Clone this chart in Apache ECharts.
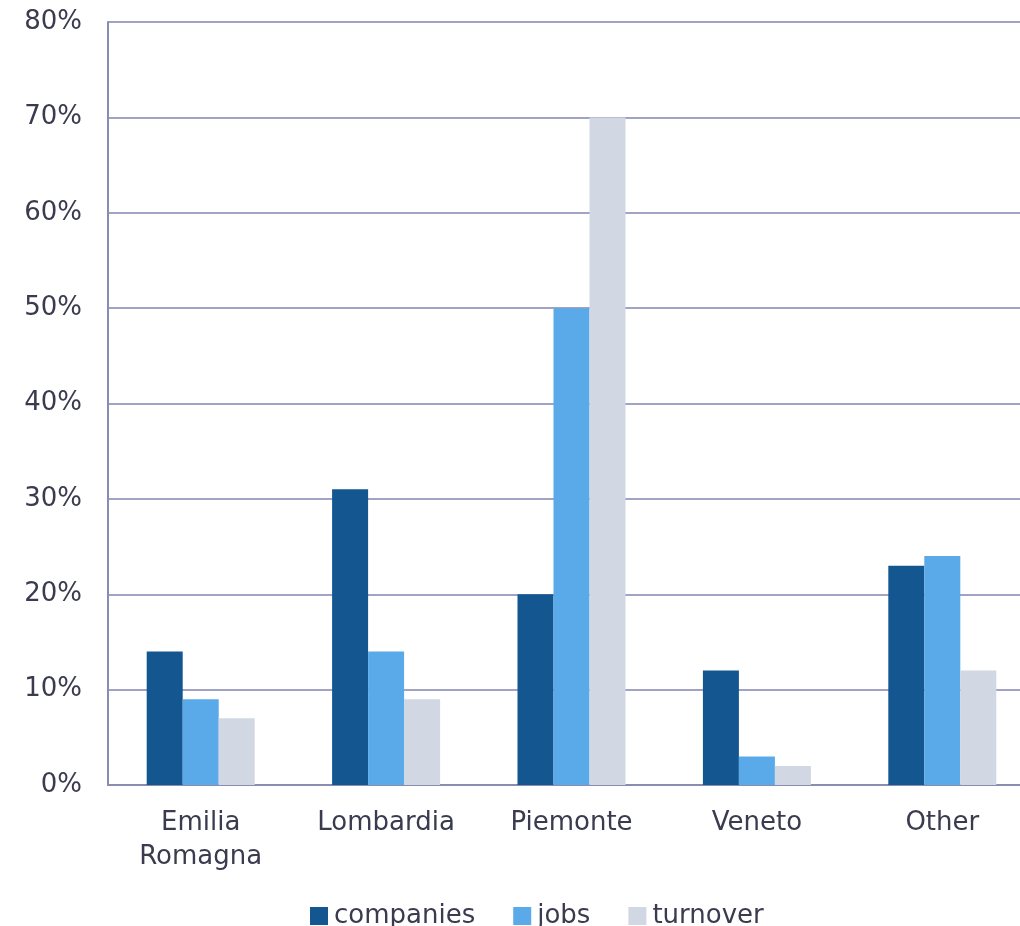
<!DOCTYPE html>
<html>
<head>
<meta charset="utf-8">
<script src="https://cdn.jsdelivr.net/npm/echarts@6/dist/echarts.min.js"></script>
<style>
  html, body { margin: 0; padding: 0; background: #ffffff; overflow: hidden; }
  #chart { width: 1020px; height: 926px; }
</style>
</head>
<body>
<div id="chart"></div>
<script>
// Regional shares (percent)
const categories = ['Emilia\nRomagna', 'Lombardia', 'Piemonte', 'Veneto', 'Other'];
const companies = [14, 31, 20, 12, 23];
const jobs = [9, 14, 50, 3, 24];
const turnover = [7, 9, 70, 2, 12];
const yTicks = { min: 0, max: 80, interval: 10 };

const textColor = '#3b3b50';
const lineColor = '#a0a3c4';
const axisColor = '#8a8cb0';
const font = 'DejaVu Sans';

const chart = echarts.init(document.getElementById('chart'), null, { renderer: 'canvas' });

function barSeries(name, data, color) {
  return {
    name: name,
    type: 'bar',
    data: data,
    barWidth: 36,
    barGap: '0%',
    itemStyle: { color: color },
    emphasis: { disabled: true }
  };
}

chart.setOption({
  animation: false,
  textStyle: { fontFamily: font },
  // plot area runs past the right edge of the canvas
  grid: { left: 108, width: 927, top: 22, height: 763, containLabel: false, outerBoundsMode: 'none' },
  legend: {
    top: 903,
    left: 310,
    padding: 0,
    itemWidth: 18,
    itemHeight: 18,
    itemGap: 38,
    icon: 'rect',
    textStyle: { color: textColor, fontSize: 26, fontFamily: font, padding: [0, 0, 0, 1] },
    data: ['companies', 'jobs', 'turnover']
  },
  xAxis: {
    type: 'category',
    data: categories,
    axisLine: { show: true, lineStyle: { color: axisColor, width: 2 } },
    axisTick: { show: false },
    axisLabel: { color: textColor, fontSize: 26, margin: 21, lineHeight: 34, fontFamily: font }
  },
  yAxis: {
    type: 'value',
    min: yTicks.min,
    max: yTicks.max,
    interval: yTicks.interval,
    axisLine: { show: true, lineStyle: { color: axisColor, width: 2 } },
    axisTick: { show: false },
    splitLine: { show: true, lineStyle: { color: lineColor, width: 2 } },
    axisLabel: { color: textColor, fontSize: 26, margin: 26, formatter: '{value}%', fontFamily: font }
  },
  series: [
    barSeries('companies', companies, '#135690'),
    barSeries('jobs', jobs, '#5aa9e8'),
    barSeries('turnover', turnover, '#d1d8e4')
  ]
});
</script>
</body>
</html>
